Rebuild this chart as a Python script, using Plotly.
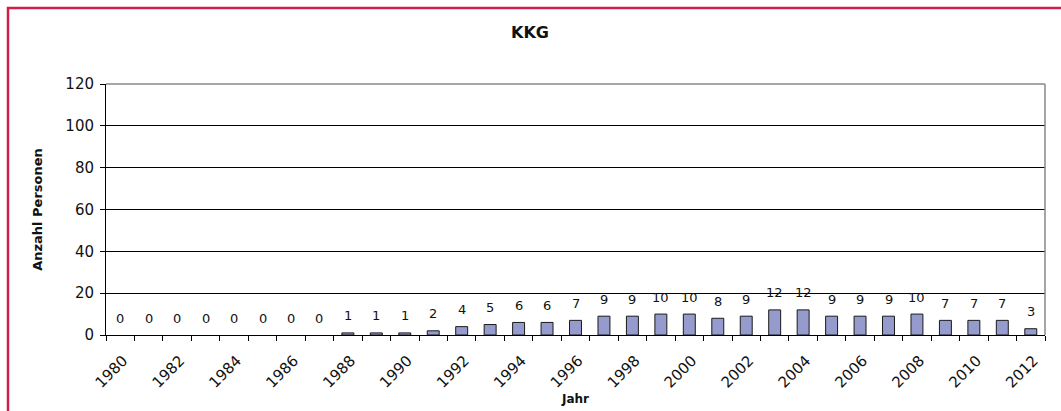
import plotly.graph_objects as go

years = list(range(1980, 2013))
persons = [0, 0, 0, 0, 0, 0, 0, 0, 1, 1, 1, 2, 4, 5, 6, 6, 7, 9, 9, 10, 10, 8, 9, 12, 12, 9, 9, 9, 10, 7, 7, 7, 3]
tick_years = list(range(1980, 2013, 2))
tick_labels = [str(y) for y in tick_years]
y_ticks = [0, 20, 40, 60, 80, 100, 120]

W, H = 1061, 411
L, R, T, B = 106, 16, 84, 76
pw, ph = W - L - R, H - T - B

def px_x(p):
    return (p - L) / pw

def px_y(p):
    return (H - B - p) / ph

FONT = "DejaVu Sans"

fig = go.Figure()
fig.add_trace(go.Bar(
    x=years, y=persons,
    marker=dict(color="#959BCD",
                line=dict(color="#1a1a1a", width=[1 if v > 0 else 0 for v in persons])),
    width=0.42,
    hoverinfo="x+y",
))

for yr, v in zip(years, persons):
    fig.add_annotation(x=yr, y=v, text=str(v), showarrow=False,
                       yanchor="middle", xanchor="center", yshift=17,
                       font=dict(family=FONT, size=13, color="#111"))

fig.update_layout(
    width=W, height=H,
    margin=dict(l=L, r=R, t=T, b=B, autoexpand=False),
    paper_bgcolor="white", plot_bgcolor="white",
    showlegend=False,
    font=dict(family=FONT, color="#111"),
    title=dict(text="<b>KKG</b>", x=px_x(530), xanchor="center",
               y=(H - 32) / H, yanchor="middle", xref="paper",
               font=dict(family=FONT, size=16, color="#111")),
    xaxis=dict(
        range=[1979.5, 2012.5], automargin=False,
        tickmode="array", tickvals=tick_years, ticktext=tick_labels,
        tickangle=-45, ticks="", ticklen=0, ticklabelstandoff=10, ticklabelshift=3,
        tickfont=dict(family=FONT, size=15, color="#111"),
        showgrid=False, zeroline=False,
        showline=True, linecolor="black", linewidth=1,
        minor=dict(tickmode="linear", tick0=1979.5, dtick=1,
                   ticks="outside", ticklen=5, tickcolor="black", tickwidth=1,
                   showgrid=False),
        title=dict(text="<b>Jahr</b>", font=dict(family=FONT, size=12, color="#111"),
                   standoff=2),
    ),
    yaxis=dict(
        range=[0, 120], tickmode="array", tickvals=y_ticks, automargin=False,
        ticks="outside", ticklen=5, tickcolor="black", ticklabelstandoff=3,
        tickfont=dict(family=FONT, size=15, color="#111"),
        showgrid=True, gridcolor="black", gridwidth=1,
        zeroline=False,
        showline=True, linecolor="black", linewidth=1,
        title=dict(text="<b>Anzahl Personen</b>", font=dict(family=FONT, size=13, color="#111"),
                   standoff=19),
    ),
)

# gray top and right plot border
fig.add_shape(type="line", xref="paper", yref="paper", x0=0, x1=1, y0=1, y1=1,
              line=dict(color="#888888", width=1.5), layer="above")
fig.add_shape(type="line", xref="paper", yref="paper", x0=1, x1=1, y0=0, y1=1,
              line=dict(color="#888888", width=1.5), layer="above")
# crimson outer frame (open at right/bottom like the reference crop)
fig.add_shape(type="rect", xref="paper", yref="paper",
              x0=px_x(8), x1=px_x(1075), y0=px_y(425), y1=px_y(8),
              line=dict(color="#D01E4B", width=2.5), layer="above")

fig.write_html("out.html", config={"displayModeBar": False},
               post_script="document.body.style.margin='0';document.body.style.overflow='hidden';")
